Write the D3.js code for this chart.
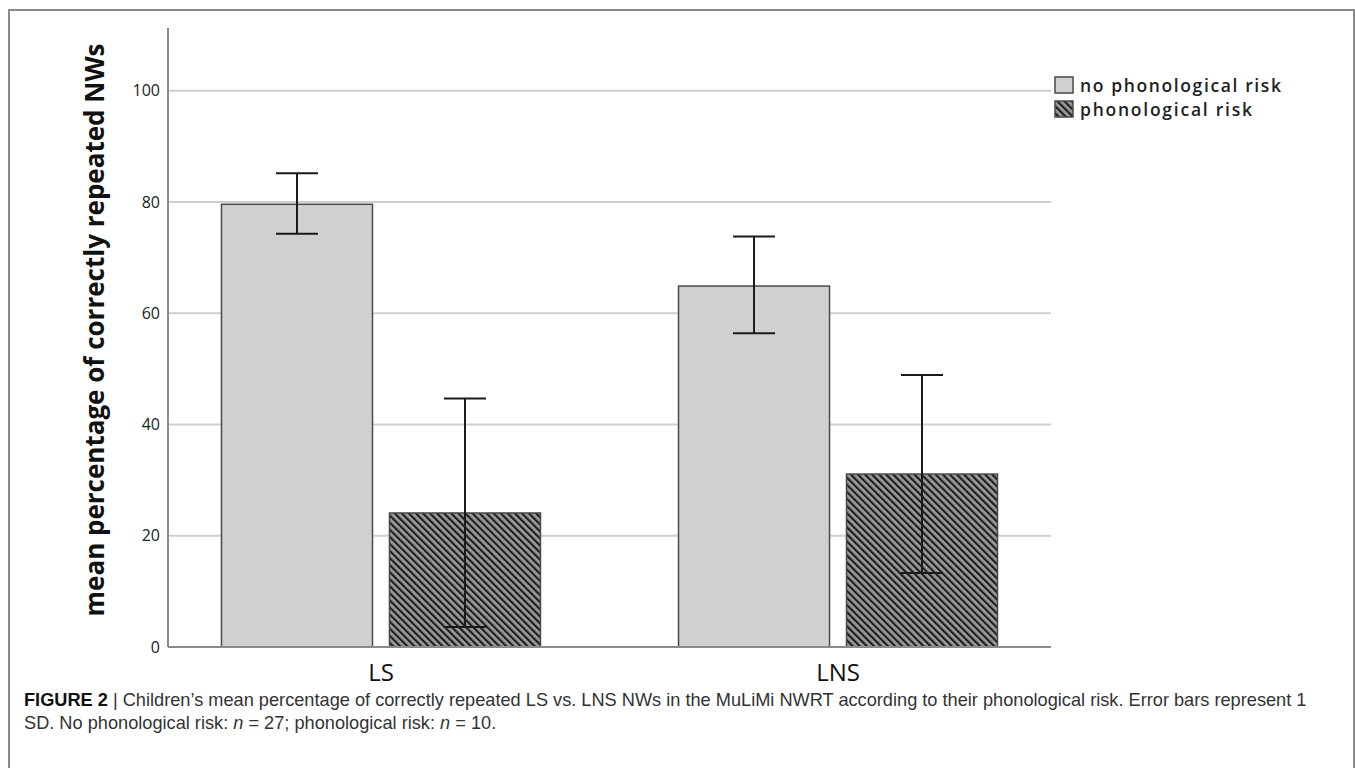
<!DOCTYPE html>
<html><head><meta charset="utf-8">
<script src="https://cdn.jsdelivr.net/npm/d3@7"></script>
<style>body{margin:0;background:#fff}svg{display:block}</style>
</head><body>
<svg id="c" width="1355" height="768"></svg>
<script>
const categories = ["LS", "LNS"];
const series = ["no phonological risk", "phonological risk"];
const means = { "no phonological risk": [79.6, 64.9], "phonological risk": [24.1, 31.1] };
const errLow = { "no phonological risk": [74.3, 56.4], "phonological risk": [3.6, 13.3] };
const errHigh = { "no phonological risk": [85.2, 73.8], "phonological risk": [44.7, 48.9] };
const yTicks = [0, 20, 40, 60, 80, 100];
const yTitle = "mean percentage of correctly repeated NWs";

const svg = d3.select("#c");
const L = 168, R = 1051, T = 28, B = 647;

// frame
svg.append("path").attr("d", `M9,800V10H1354V800`).attr("fill","none").attr("stroke","#8a8a8a").attr("stroke-width",2);

const defs = svg.append("defs");
const pat = defs.append("pattern").attr("id","hatch").attr("patternUnits","userSpaceOnUse")
  .attr("width",5).attr("height",5).attr("patternTransform","rotate(-45)");
pat.append("rect").attr("width",5).attr("height",5).attr("fill","#9a9a9a");
pat.append("rect").attr("x",0).attr("y",0).attr("width",2.2).attr("height",5).attr("fill","#1e1e1e");

const y = d3.scaleLinear().domain([0, 111.3]).range([B, T]);
const x = d3.scalePoint().domain(categories).range([L, R]).padding(0.466);
const xs = d3.scaleBand().domain(series).range([-159.5, 159.5]).paddingInner(0.101).paddingOuter(0);

// gridlines
svg.append("g").selectAll("line").data(yTicks.filter(d => d > 0)).join("line")
  .attr("x1", L).attr("x2", R).attr("y1", d => y(d)).attr("y2", d => y(d))
  .attr("stroke", "#cfcfcf").attr("stroke-width", 2);

// y axis
const yAxis = svg.append("g").attr("transform", `translate(${L},0)`)
  .call(d3.axisLeft(y).tickValues(yTicks).tickSize(0).tickPadding(8));
yAxis.select(".domain").remove();
yAxis.selectAll("text").attr("font-family","Open Sans, sans-serif").attr("font-size",16).attr("fill","#222");
svg.append("line").attr("x1",L).attr("x2",L).attr("y1",T).attr("y2",B).attr("stroke","#8a8a8a").attr("stroke-width",2);

// bars
const bars = [];
categories.forEach((c, i) => series.forEach(s => bars.push({c, s, v: means[s][i], lo: errLow[s][i], hi: errHigh[s][i]})));
svg.append("g").selectAll("rect").data(bars).join("rect")
  .attr("x", d => x(d.c) + xs(d.s)).attr("width", xs.bandwidth())
  .attr("y", d => y(d.v)).attr("height", d => y(0) - y(d.v))
  .attr("fill", d => d.s === series[0] ? "#d0d0d0" : "url(#hatch)")
  .attr("stroke", "#4a4a4a").attr("stroke-width", 1.5);

// baseline
svg.append("line").attr("x1",L).attr("x2",R).attr("y1",y(0)).attr("y2",y(0)).attr("stroke","#8a8a8a").attr("stroke-width",2);

// error bars
const eg = svg.append("g").attr("stroke","#1a1a1a").attr("stroke-width",2);
bars.forEach(d => {
  const cx = x(d.c) + xs(d.s) + xs.bandwidth()/2;
  eg.append("line").attr("x1",cx).attr("x2",cx).attr("y1",y(d.hi)).attr("y2",y(d.lo));
  eg.append("line").attr("x1",cx-21).attr("x2",cx+21).attr("y1",y(d.hi)).attr("y2",y(d.hi));
  eg.append("line").attr("x1",cx-21).attr("x2",cx+21).attr("y1",y(d.lo)).attr("y2",y(d.lo));
});

// category labels
svg.append("g").selectAll("text").data(categories).join("text")
  .attr("x", d => x(d)).attr("y", 681).attr("text-anchor","middle")
  .attr("font-family","Open Sans, sans-serif").attr("font-size",24).attr("fill","#111").text(d => d);

// y title
svg.append("text").attr("transform","translate(104,330) rotate(-90)").attr("text-anchor","middle")
  .attr("font-family","Open Sans, sans-serif").attr("font-weight","bold").attr("font-size",26).attr("fill","#111")
  .text(yTitle);

// legend
const lg = svg.append("g");
const legendWidths = [201, 172];
series.forEach((s, i) => {
  lg.append("rect").attr("x",1055).attr("y",77 + i*24).attr("width",18).attr("height",16)
    .attr("fill", i === 0 ? "#d0d0d0" : "url(#hatch)").attr("stroke","#4a4a4a").attr("stroke-width",1.5);
  lg.append("text").attr("x",1080).attr("y",92 + i*24).attr("font-family","Open Sans, sans-serif")
    .attr("font-weight",600).attr("font-size",17.5).attr("fill","#222")
    .attr("textLength", legendWidths[i]).attr("lengthAdjust","spacing").text(s);
});

// caption
const cap = svg.append("g").attr("font-family","Liberation Sans, Arial, sans-serif").attr("font-size",18.2).attr("fill","#333");
const t1 = cap.append("text").attr("x",24).attr("y",706);
t1.append("tspan").attr("font-weight","bold").attr("fill","#111").text("FIGURE 2");
t1.append("tspan").text("  |  Children’s mean percentage of correctly repeated LS vs. LNS NWs in the MuLiMi NWRT according to their phonological risk. Error bars represent 1");
const t2 = cap.append("text").attr("x",24).attr("y",729);
t2.append("tspan").text("SD. No phonological risk: ");
t2.append("tspan").attr("font-style","italic").text("n");
t2.append("tspan").text(" = 27; phonological risk: ");
t2.append("tspan").attr("font-style","italic").text("n");
t2.append("tspan").text(" = 10.");
</script>
</body></html>
